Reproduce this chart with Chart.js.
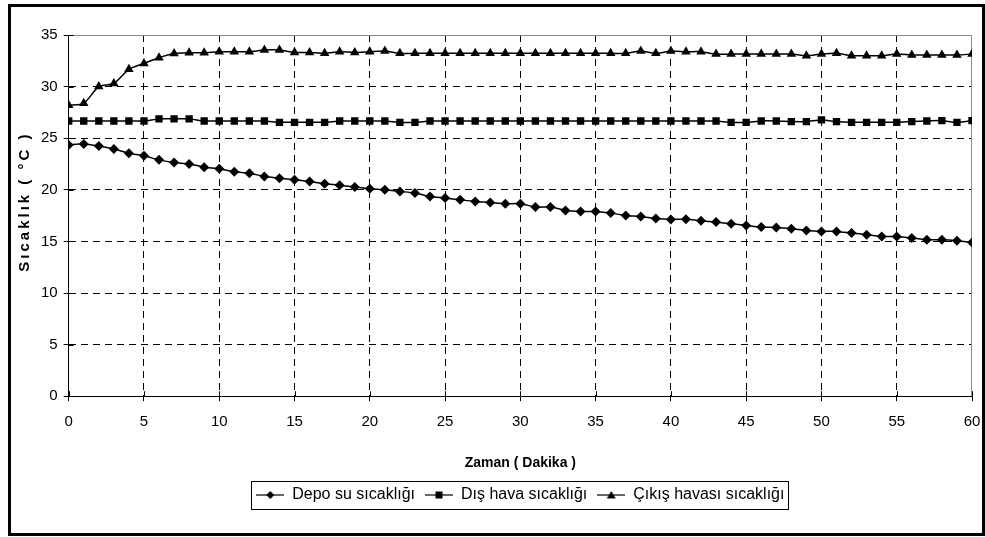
<!DOCTYPE html>
<html>
<head>
<meta charset="utf-8">
<script src="https://cdn.jsdelivr.net/npm/chart.js@4/dist/chart.umd.min.js"></script>
<style>
  html, body { margin: 0; padding: 0; background: #fff; }
  #wrap { width: 985px; height: 537px; position: relative; }
</style>
</head>
<body>
<div id="wrap"><canvas id="c" width="985" height="537"></canvas></div>
<script>
// ---- data ----
const minutes = [0,1,2,3,4,5,6,7,8,9,10,11,12,13,14,15,16,17,18,19,20,
  21,22,23,24,25,26,27,28,29,30,31,32,33,34,35,36,37,38,39,40,
  41,42,43,44,45,46,47,48,49,50,51,52,53,54,55,56,57,58,59,60];

const depoSu = [24.35,24.45,24.25,23.96,23.55,23.29,22.90,22.64,22.51,22.19,22.03,
  21.74,21.61,21.29,21.13,20.97,20.80,20.58,20.45,20.26,20.10,
  20.00,19.84,19.68,19.35,19.20,19.03,18.87,18.77,18.65,18.65,
  18.33,18.33,18.00,17.90,17.90,17.74,17.52,17.42,17.22,17.13,
  17.15,17.00,16.87,16.71,16.55,16.39,16.35,16.23,16.06,15.97,
  15.97,15.81,15.65,15.48,15.48,15.33,15.16,15.16,15.07,14.90];

const disHava = [26.67,26.67,26.67,26.67,26.67,26.67,26.87,26.87,26.87,26.67,26.67,
  26.67,26.67,26.67,26.54,26.54,26.54,26.54,26.67,26.67,26.67,
  26.67,26.54,26.54,26.67,26.67,26.67,26.67,26.67,26.67,26.67,
  26.67,26.67,26.67,26.67,26.67,26.67,26.67,26.67,26.67,26.67,
  26.67,26.67,26.67,26.54,26.54,26.67,26.67,26.61,26.61,26.77,
  26.61,26.54,26.54,26.54,26.54,26.61,26.67,26.70,26.54,26.70];

const cikisHavasi = [28.20,28.38,30.00,30.30,31.67,32.25,32.80,33.20,33.28,33.28,33.38,
  33.38,33.38,33.54,33.54,33.31,33.31,33.22,33.38,33.31,33.38,
  33.44,33.22,33.22,33.22,33.22,33.22,33.22,33.22,33.22,33.22,
  33.22,33.22,33.22,33.22,33.22,33.22,33.22,33.44,33.22,33.44,
  33.38,33.38,33.15,33.15,33.15,33.15,33.15,33.15,32.99,33.15,
  33.22,32.99,32.99,32.99,33.15,33.06,33.06,33.06,33.06,33.15];

const seriesNames = ['Depo su sıcaklığı', 'Dış hava sıcaklığı', 'Çıkış havası sıcaklığı'];
const seriesValues = [depoSu, disHava, cikisHavasi];
const seriesMarkers = ['rectRot', 'rect', 'triangle'];
const xTitle = 'Zaman ( Dakika )';
const yTitle = 'Sıcaklık ( °C )';

// ---- styling ----
const FONT = "'Liberation Sans', Arial, sans-serif";
const markerRadius = { rectRot: 5, rect: 5.2, triangle: 5.5 };

function makeLegendIcon(style) {
  const c = document.createElement('canvas');
  c.width = 28; c.height = 12;
  const g = c.getContext('2d');
  g.strokeStyle = '#000'; g.fillStyle = '#000'; g.lineWidth = 1.2;
  g.beginPath(); g.moveTo(0, 6); g.lineTo(28, 6); g.stroke();
  g.beginPath();
  if (style === 'rectRot') { g.moveTo(14, 2); g.lineTo(18, 6); g.lineTo(14, 10); g.lineTo(10, 6); }
  else if (style === 'rect') { g.rect(10.5, 2.5, 7, 7); }
  else { g.moveTo(14, 2); g.lineTo(18.5, 9.5); g.lineTo(9.5, 9.5); }
  g.closePath(); g.fill();
  return c;
}
const legendIcons = seriesMarkers.map(makeLegendIcon);

const datasets = seriesNames.map((name, i) => ({
  label: name,
  data: minutes.map((m, j) => ({ x: m, y: seriesValues[i][j] })),
  borderColor: '#000',
  backgroundColor: '#000',
  borderWidth: 1.5,
  pointStyle: seriesMarkers[i],
  pointRadius: markerRadius[seriesMarkers[i]],
  pointBorderWidth: 0,
  pointBackgroundColor: '#000',
  tension: 0.25,
  fill: false
}));

const decorPlugin = {
  id: 'decor',
  beforeDraw(chart) {
    const ctx = chart.ctx;
    ctx.save();
    ctx.fillStyle = '#fff';
    ctx.fillRect(0, 0, chart.width, chart.height);
    ctx.restore();
  },
  beforeDatasetsDraw(chart) {
    const { ctx, chartArea: a, scales } = chart;
    ctx.save();
    ctx.strokeStyle = '#8a8a8a';
    ctx.lineWidth = 1;
    ctx.beginPath();
    ctx.moveTo(Math.round(a.left), Math.round(a.top) + 0.5);
    ctx.lineTo(Math.round(a.right) - 0.5, Math.round(a.top) + 0.5);
    ctx.lineTo(Math.round(a.right) - 0.5, Math.round(a.bottom));
    ctx.stroke();
    ctx.strokeStyle = '#000';
    ctx.beginPath();
    scales.y.ticks.forEach(t => {
      const y = Math.round(scales.y.getPixelForValue(t.value)) + 0.5;
      ctx.moveTo(a.left, y); ctx.lineTo(a.left + 5, y);
    });
    scales.x.ticks.forEach(t => {
      const x = Math.round(scales.x.getPixelForValue(t.value)) + 0.5;
      ctx.moveTo(x, a.bottom); ctx.lineTo(x, a.bottom - 5);
    });
    ctx.stroke();
    ctx.restore();
  },
  afterDraw(chart) {
    const { ctx, chartArea: a } = chart;
    ctx.save();
    // y-axis title (spaced letters, as in the reference)
    ctx.translate(25, (a.top + a.bottom) / 2 - 14);
    ctx.rotate(-Math.PI / 2);
    ctx.fillStyle = '#000';
    ctx.font = "bold 15px " + FONT;
    ctx.textAlign = 'center';
    ctx.textBaseline = 'middle';
    try { ctx.letterSpacing = '3px'; } catch (e) {}
    ctx.fillText(yTitle, 0, 0);
    ctx.restore();

    ctx.save();
    const boxes = chart.legend.legendHitBoxes;
    if (boxes && boxes.length) {
      let l = Infinity, r = -Infinity, t = Infinity, b = -Infinity;
      boxes.forEach(h => {
        l = Math.min(l, h.left); r = Math.max(r, h.left + h.width);
        t = Math.min(t, h.top); b = Math.max(b, h.top + h.height);
      });
      ctx.strokeStyle = '#000'; ctx.lineWidth = 1;
      ctx.strokeRect(Math.round(l - 5) + 0.5, Math.round(t - 6) + 0.5,
                     Math.round(r - l + 9), Math.round(b - t + 12));
    }
    ctx.strokeStyle = '#000';
    ctx.lineWidth = 3;
    ctx.strokeRect(9.5, 5.5, 974, 529);
    ctx.restore();
  }
};

new Chart(document.getElementById('c'), {
  type: 'line',
  data: { datasets },
  plugins: [decorPlugin],
  options: {
    responsive: false,
    animation: false,
    layout: { padding: { top: 35, right: 0, bottom: 24, left: 35 } },
    scales: {
      x: {
        type: 'linear',
        min: 0, max: 60,
        afterFit(scale) { scale.paddingRight = 13; scale.paddingLeft = 4; },
        ticks: { stepSize: 5, color: '#000', font: { family: FONT, size: 15 }, padding: 12, maxRotation: 0 },
        grid: {
          color: (c) => (c.tick && (c.tick.value === 0 || c.tick.value === 60)) ? 'rgba(0,0,0,0)' : '#000',
          tickColor: '#000',
          tickLength: 5,
          lineWidth: 1
        },
        border: { display: true, color: '#000', width: 1, dash: [7, 5] },
        title: { display: true, text: xTitle, color: '#000', font: { family: FONT, size: 14, weight: 'bold' }, padding: { top: 12, bottom: 5 } }
      },
      y: {
        min: 0, max: 35,
        ticks: { stepSize: 5, color: '#000', font: { family: FONT, size: 15 }, padding: 6 },
        grid: {
          color: (c) => (c.tick && (c.tick.value === 0 || c.tick.value === 35)) ? 'rgba(0,0,0,0)' : '#000',
          tickColor: '#000',
          tickLength: 5,
          lineWidth: 1
        },
        border: { display: true, color: '#000', width: 1, dash: [7, 5] },
        title: { display: false, text: yTitle }
      }
    },
    plugins: {
      legend: {
        position: 'bottom',
        fullSize: false,
        labels: {
          usePointStyle: true,
          pointStyleWidth: 28,
          color: '#000',
          font: { family: FONT, size: 16 },
          padding: 10,
          generateLabels(chart) {
            return chart.data.datasets.map((ds, i) => ({
              text: ds.label,
              pointStyle: legendIcons[i],
              fillStyle: '#000',
              strokeStyle: '#000',
              lineWidth: 0,
              fontColor: '#000',
              hidden: false,
              datasetIndex: i
            }));
          }
        }
      },
      tooltip: { enabled: false }
    }
  }
});
</script>
</body>
</html>
